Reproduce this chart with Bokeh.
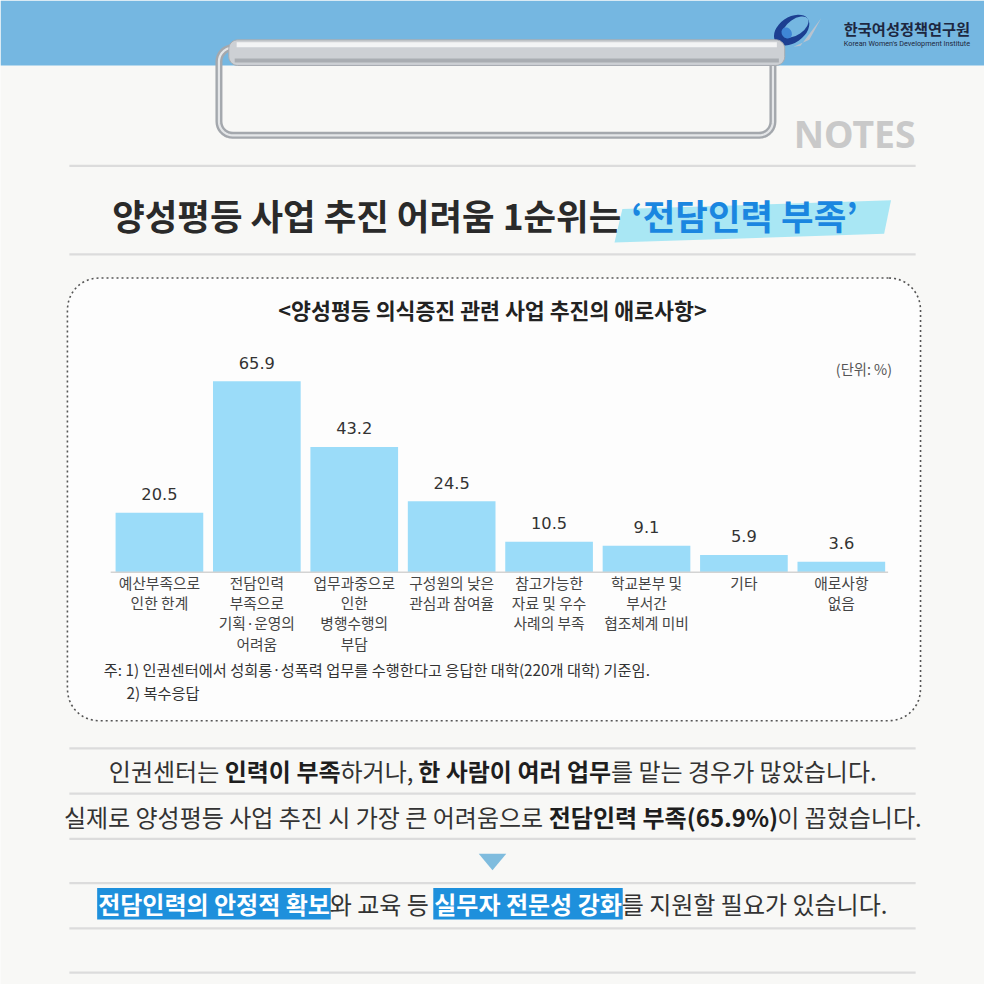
import numpy as np
from bokeh.plotting import figure
from bokeh.models import Range1d
from bokeh.core.properties import value
from bokeh.embed import file_html
from bokeh.resources import INLINE

# ---------------- data ----------------
categories = ["예산부족으로 인한 한계", "전담인력 부족으로 기획·운영의 어려움",
              "업무과중으로 인한 병행수행의 부담", "구성원의 낮은 관심과 참여율",
              "참고가능한 자료 및 우수 사례의 부족", "학교본부 및 부서간 협조체계 미비",
              "기타", "애로사항 없음"]
values = [20.5, 65.9, 43.2, 24.5, 10.5, 9.1, 5.9, 3.6]
label_lines = [["예산부족으로", "인한 한계"],
               ["전담인력", "부족으로", "기획·운영의", "어려움"],
               ["업무과중으로", "인한", "병행수행의", "부담"],
               ["구성원의 낮은", "관심과 참여율"],
               ["참고가능한", "자료 및 우수", "사례의 부족"],
               ["학교본부 및", "부서간", "협조체계 미비"],
               ["기타"],
               ["애로사항", "없음"]]
headline = ["양성평등 사업 추진 어려움 1순위는 ", "‘전담인력 부족’"]
chart_title = "<양성평등 의식증진 관련 사업 추진의 애로사항>"
unit_label = "(단위: %)"
notes = ["주: 1) 인권센터에서 성희롱·성폭력 업무를 수행한다고 응답한 대학(220개 대학) 기준임.",
         "2) 복수응답"]
line1 = [("인권센터는 ", "n"), ("인력이 부족", "b"), ("하거나, ", "n"),
         ("한 사람이 여러 업무", "b"), ("를 맡는 경우가 많았습니다.", "n")]
line2 = [("실제로 양성평등 사업 추진 시 가장 큰 어려움으로 ", "n"),
         ("전담인력 부족(65.9%)", "b"), ("이 꼽혔습니다.", "n")]
line3 = [("전담인력의 안정적 확보", "h"), ("와 교육 등 ", "n"),
         ("실무자 전문성 강화", "h"), ("를 지원할 필요가 있습니다.", "n")]

# ---------------- style ----------------
FS = 0.984
KR = value("Noto Sans CJK KR")
BG = "#F8F8F6"
def fsz(n):
    return value(f"{n*FS:.2f}px")

p = figure(width=984, height=984, x_range=Range1d(0, 1000), y_range=Range1d(1000, 0),
           output_backend="svg", toolbar_location=None,
           x_axis_location=None, y_axis_location=None, min_border=0,
           background_fill_color=BG, border_fill_color=BG, outline_line_color=None)
p.grid.visible = False

def rrect(x0, y0, x1, y1, r, n=10):
    xs, ys = [], []
    for cx, cy, a0 in [(x1 - r, y0 + r, -90), (x1 - r, y1 - r, 0),
                       (x0 + r, y1 - r, 90), (x0 + r, y0 + r, 180)]:
        a = np.radians(np.linspace(a0, a0 + 90, n))
        xs += list(cx + r * np.cos(a)); ys += list(cy + r * np.sin(a))
    xs.append(xs[0]); ys.append(ys[0])
    return xs, ys

# header band
p.quad(left=0, right=1000, top=0, bottom=66, fill_color="#75B7E1", line_color=None)

# logo
p.ellipse(x=[804], y=[30], width=40, height=26, angle=np.radians(35),
          fill_color="#1C3F91", line_color=None)
p.ellipse(x=[808], y=[27], width=30, height=16, angle=np.radians(35),
          fill_color="#75B7E1", line_color=None)
p.ellipse(x=[799], y=[33], width=10, height=12, angle=np.radians(35),
          fill_color="#3F86D6", line_color=None)
p.patch(x=[822, 834, 813, 806], y=[40, 18, 46, 47], fill_color="#B9C3CF", line_color=None)
p.text(x=[857], y=[28], text=["한국여성정책연구원"], text_font=KR, text_font_size=fsz(15.5),
       text_font_style="bold", text_color="#1D2740", text_baseline="middle", text_align="left")
p.text(x=[857], y=[43.5], text=["Korean Women's Development Institute"], text_font=value("Roboto"),
       text_font_size=fsz(7.4), text_color="#1D2740", text_baseline="middle", text_align="left")

# clipboard clip
wx, wy = rrect(222, 48, 785, 137, 14)
p.line(wx, wy, line_color="#A4A8AD", line_width=7)
p.line(wx, wy, line_color="#E4E6E8", line_width=2.2)
bx, by = rrect(232, 40, 797, 66, 9)
p.patch(bx, by, fill_color="#CDD0D4", line_color="#A7ABB0", line_width=1)
p.line([240, 789], [45, 45], line_color="#F3F4F5", line_width=5)
p.line([238, 791], [61, 61], line_color="#A9ADB2", line_width=4)

# NOTES
p.text(x=[930], y=[135], text=["NOTES"], text_font=value("Noto Sans"), text_font_size=fsz(38),
       text_font_style="bold", text_color="#C9C9C9", text_baseline="middle", text_align="right")

# grey separator lines
for yy in [168, 258, 760, 806, 852, 897, 943, 988]:
    p.line([70, 930], [yy, yy], line_color="#DCDCDC", line_width=2.2)

# headline with brush highlight
p.patch(x=[632, 905, 898, 624], y=[212, 203, 237, 246], fill_color="#A9E7F4", line_color=None)
p.text(x=[639], y=[217], text=[headline[0]], text_font=KR, text_font_size=fsz(36),
       text_font_style="bold", text_color="#2A2A2A", text_baseline="middle", text_align="right")
p.text(x=[641], y=[217], text=[headline[1]], text_font=KR, text_font_size=fsz(36),
       text_font_style="bold", text_color="#1A86E0", text_baseline="middle", text_align="left")

# dotted box
dx, dy = rrect(68, 282, 935, 732, 32)
p.patch(dx, dy, fill_color="#FDFDFD", line_color="#555555", line_width=1.6, line_dash="2 3")

p.text(x=[500], y=[314], text=[chart_title], text_font=KR, text_font_size=fsz(22),
       text_font_style="bold", text_color="#222222", text_baseline="middle", text_align="center")
p.text(x=[906], y=[374], text=[unit_label], text_font=KR, text_font_size=fsz(14.5),
       text_color="#555555", text_baseline="middle", text_align="right")

# ---------------- bar chart via extra ranges ----------------
BASE_Y, PX_PER = 581.0, 194.0 / 65.9
X0, PITCH = 161.5, 99.0
p.extra_y_ranges = {"val": Range1d(start=-(1000 - BASE_Y) / PX_PER, end=BASE_Y / PX_PER)}
p.extra_x_ranges = {"cat": Range1d(start=-X0 / PITCH, end=(1000 - X0) / PITCH)}
idx = list(range(len(categories)))

p.vbar(x=idx, top=values, bottom=0, width=0.9, x_range_name="cat", y_range_name="val",
       fill_color="#9BDCF9", line_color=None)
p.line(x=[-0.5, len(categories) - 0.52], y=[0, 0], x_range_name="cat", y_range_name="val",
       line_color="#D3D3D3", line_width=1.5)
p.text(x=idx, y=values, text=[f"{v}" for v in values], x_range_name="cat", y_range_name="val",
       text_font=value("DejaVu Sans"), text_font_size=fsz(16.5), text_color="#333333",
       text_align="center", text_baseline="middle", y_offset=-19 * FS)
for j in range(4):
    xs = [i for i in idx if len(label_lines[i]) > j]
    tx = [label_lines[i][j] for i in xs]
    p.text(x=xs, y=[0] * len(xs), text=tx, x_range_name="cat", y_range_name="val",
           text_font=KR, text_font_size=fsz(15), text_color="#444444",
           text_align="center", text_baseline="middle", y_offset=(10 + j * 20.7) * FS)

p.text(x=[105], y=[679], text=[notes[0]], text_font=KR, text_font_size=fsz(15.5),
       text_color="#333333", text_baseline="middle", text_align="left")
p.text(x=[128], y=[703], text=[notes[1]], text_font=KR, text_font_size=fsz(15.5),
       text_color="#333333", text_baseline="middle", text_align="left")

# ---------------- bottom sentences ----------------
def em(ch, bold):
    if '\uac00' <= ch <= '\ud7a3':
        return 0.92
    if ch == ' ':
        return 0.224
    if ch in ',.':
        return 0.25
    if ch in '()':
        return 0.4 if bold else 0.34
    if ch.isdigit():
        return 0.6 if bold else 0.555
    if ch == '%':
        return 0.92 if bold else 0.88
    return 0.6

def draw_sentence(segs, cy, size, xc=500):
    widths = [sum(em(c, k != "n") for c in s) * size for s, k in segs]
    x = xc - sum(widths) / 2
    for (s, k), w in zip(segs, widths):
        if k == "h":
            p.quad(left=x - 1, right=x + w + 1, top=cy - 16, bottom=cy + 16,
                   fill_color="#1E90DC", line_color=None)
        p.text(x=[x], y=[cy], text=[s], text_font=KR, text_font_size=fsz(size),
               text_font_style="normal" if k == "n" else "bold",
               text_color={"n": "#333333", "b": "#1E1E1E", "h": "#FFFFFF"}[k],
               text_baseline="middle", text_align="left")
        x += w

draw_sentence(line1, 783, 24.4)
draw_sentence(line2, 829, 24.4)
draw_sentence(line3, 918, 24.4)

p.patch(x=[486, 514, 500], y=[867, 867, 884], fill_color="#7FBCDE", line_color=None)

open("out.html", "w").write(file_html(p, INLINE))
